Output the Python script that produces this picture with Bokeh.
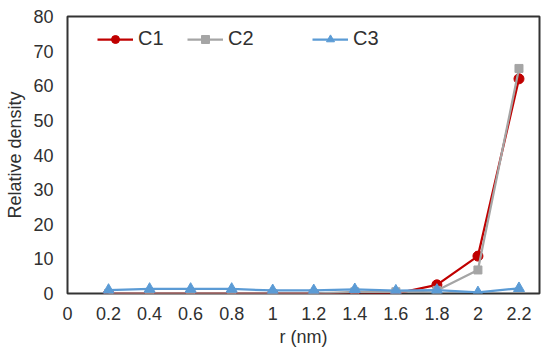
from bokeh.plotting import figure
from bokeh.models import Range1d, FixedTicker, Legend, LegendItem
from bokeh.embed import file_html
from bokeh.resources import INLINE

r_nm = [0.2, 0.4, 0.6, 0.8, 1.0, 1.2, 1.4, 1.6, 1.8, 2.0, 2.2]
c1 = [0.0, 0.0, 0.0, 0.0, 0.0, 0.0, -0.3, 0.0, 2.5, 10.8, 62.0]
c2 = [0.0, 0.0, 0.0, 0.0, 0.0, 0.0, 0.5, 0.5, 0.9, 6.8, 65.0]
c3 = [1.0, 1.3, 1.3, 1.3, 0.9, 0.9, 1.2, 0.8, 1.0, 0.3, 1.5]

x_ticks = [0, 0.2, 0.4, 0.6, 0.8, 1, 1.2, 1.4, 1.6, 1.8, 2, 2.2]
x_tick_labels = ["0", "0.2", "0.4", "0.6", "0.8", "1", "1.2", "1.4", "1.6", "1.8", "2", "2.2"]
y_ticks = [0, 10, 20, 30, 40, 50, 60, 70, 80]

FONT = "Liberation Sans"
TXT = "#303030"

p = figure(width=550, height=353, output_backend="svg", toolbar_location=None,
           x_range=Range1d(0, 2.3), y_range=Range1d(0, 80),
           min_border_left=67, min_border_right=11, min_border_top=16, min_border_bottom=60)
p.background_fill_color = "white"
p.border_fill_color = "white"
p.outline_line_color = "#333333"
p.outline_line_width = 2
p.xgrid.visible = False
p.ygrid.visible = False

for ax in (p.xaxis[0], p.yaxis[0]):
    ax.axis_line_color = None
    ax.major_tick_line_color = None
    ax.minor_tick_line_color = None
    ax.major_tick_out = 0
    ax.major_tick_in = 0
    ax.major_label_text_font = FONT
    ax.major_label_text_font_size = "18px"
    ax.major_label_text_color = TXT
    ax.axis_label_text_font = FONT
    ax.axis_label_text_font_size = "18px"
    ax.axis_label_text_font_style = "normal"
    ax.axis_label_text_color = TXT

p.xaxis.ticker = FixedTicker(ticks=x_ticks)
p.xaxis.major_label_overrides = {t: l for t, l in zip(x_ticks, x_tick_labels)}
p.yaxis.ticker = FixedTicker(ticks=y_ticks)
p.xaxis.axis_label = "r (nm)"
p.yaxis.axis_label = "Relative density"
p.xaxis.major_label_standoff = 13
p.yaxis.major_label_standoff = 14
p.xaxis.axis_label_standoff = 4
p.yaxis.axis_label_standoff = 5

red = "#C00000"
gray = "#A5A5A5"
blue = "#5B9BD5"

l1 = p.line(r_nm, c1, line_color=red, line_width=2.25)
m1 = p.scatter(r_nm, c1, marker="circle", size=10, fill_color=red, line_color=red)
l2 = p.line(r_nm, c2, line_color=gray, line_width=2.25)
m2 = p.scatter(r_nm, c2, marker="square", size=8, fill_color=gray, line_color=gray)
l3 = p.line(r_nm, c3, line_color=blue, line_width=2.25)
m3 = p.scatter(r_nm, c3, marker="triangle", size=11, fill_color=blue, line_color=blue)

def style(leg):
    leg.border_line_color = None
    leg.background_fill_alpha = 0
    leg.padding = 0
    leg.margin = 0
    leg.glyph_width = 36
    leg.glyph_height = 20
    leg.label_height = 20
    leg.label_standoff = 5
    leg.label_text_font = FONT
    leg.label_text_font_size = "20px"
    leg.label_text_color = TXT
    leg.orientation = "horizontal"

leg1 = Legend(items=[LegendItem(label="C1", renderers=[l1, m1]),
                     LegendItem(label="C2", renderers=[l2, m2])],
              location=(30, 243), label_width=40, spacing=9)
style(leg1)
leg2 = Legend(items=[LegendItem(label="C3", renderers=[l3, m3])],
              location=(245, 243))
style(leg2)
p.add_layout(leg1, "center")
p.add_layout(leg2, "center")

open("out.html", "w").write(file_html(p, INLINE))
